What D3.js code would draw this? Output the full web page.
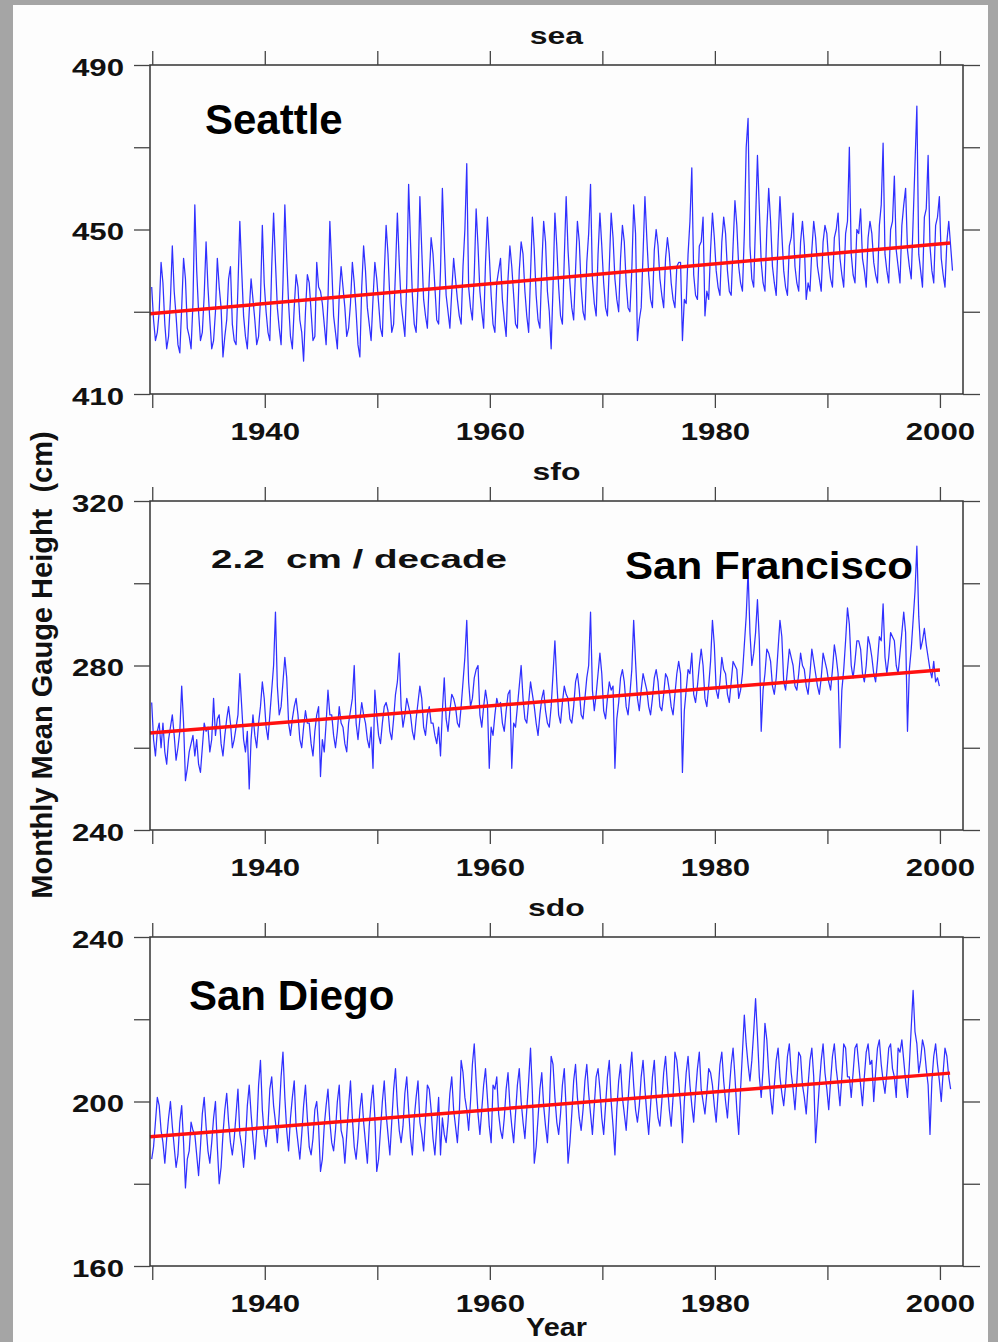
<!DOCTYPE html>
<html>
<head>
<meta charset="utf-8">
<script src="https://cdn.jsdelivr.net/npm/d3@7"></script>
<style>
  body { margin: 0; background: #a5a5a5; }
  svg { display: block; }
  text { font-family: "Liberation Sans", Arial, sans-serif; font-weight: bold; white-space: pre; }
</style>
</head>
<body>
<div id="chart"></div>
<script>
// Page size and the three stacked panels
const width = 998;
const height = 1342;
const plotLeft = 150, plotRight = 963, plotHeight = 329;
const panelTops = [65, 501, 937];

// Stations, their codes and y ranges
const stations = ["Seattle", "San Francisco", "San Diego"];
const codes = ["sea", "sfo", "sdo"];
const yDomains = [[410, 490], [240, 320], [160, 240]];
const yTickValues = [[410, 430, 450, 470, 490], [240, 260, 280, 300, 320], [160, 180, 200, 220, 240]];
const yLabelValues = [[410, 450, 490], [240, 280, 320], [160, 200, 240]];
const xTickValues = [1930, 1940, 1950, 1960, 1970, 1980, 1990, 2000];
const xLabelValues = [1940, 1960, 1980, 2000];

// Monthly means, every two months (Jan-Feb .. Nov-Dec), starting 1930
const seaLevels = [
  436,428,423,425,430,442, 437,427,421,424,433,446, 435,429,422,420,431,443, 438,426,424,421,432,456,
  440,430,423,425,434,447, 436,428,421,423,430,443, 436,431,419,424,428,438, 441,427,423,422,436,452,
  440,429,424,421,430,438, 433,428,422,424,433,451, 437,430,425,423,441,454, 442,431,426,422,437,456,
  443,432,424,421,431,439, 436,428,425,418,430,439, 437,430,423,424,442,436, 435,432,427,422,433,452,
  441,429,425,421,434,441, 436,431,424,426,432,442, 437,430,422,419,436,446, 440,431,427,423,433,442,
  438,432,426,424,439,451, 444,433,425,427,440,454, 442,432,428,424,437,461, 447,434,427,425,436,458,
  445,433,429,426,438,448, 444,436,428,427,440,460, 446,434,430,426,435,443, 438,433,429,427,441,450,
  466,436,431,428,439,455, 446,435,430,426,442,453, 444,434,427,425,437,440, 443,433,428,424,438,446,
  441,434,427,426,440,447, 444,435,429,425,439,453, 445,434,428,426,441,452, 447,435,430,421,436,454,
  446,436,429,427,443,458, 445,437,431,428,440,452, 447,436,430,428,442,449, 461,438,432,429,444,454,
  446,437,431,429,441,454, 448,438,433,430,443,451, 447,437,431,430,440,456, 449,423,428,431,444,458,
  448,439,433,431,445,450, 446,438,434,431,443,448, 444,437,433,431,441,442, 442,423,433,432,444,452,
  465,439,434,433,446,447, 453,429,435,433,445,454, 448,440,436,434,447,453, 449,440,435,434,446,457,
  451,441,437,435,449,470, 477,446,438,436,452,468, 455,442,437,435,450,460, 452,441,437,434,447,458,
  449,440,436,434,446,448, 454,441,437,435,447,452, 446,433,437,435,445,452, 448,441,438,435,447,451,
  449,442,438,436,448,450, 454,443,439,436,449,452, 470,444,439,437,450,449, 455,443,440,436,448,452,
  449,442,439,437,451,456, 471,444,440,437,450,452, 463,445,441,437,451,456, 460,445,441,438,452,466,
  480,444,440,436,453,455, 468,446,440,437,451,453, 458,443,439,436,447,452, 446,440
];
const sfoLevels = [
  271,262,258,264,266,260, 266,259,256,262,265,268, 263,257,260,264,275,266, 252,255,259,261,263,258,
  262,256,254,260,266,264, 265,259,262,272,263,267, 268,261,258,263,267,270, 266,260,262,265,268,278,
  270,262,259,264,250,262, 268,263,260,266,270,276, 272,265,262,268,274,280, 293,275,268,270,276,282,
  277,266,263,267,270,272, 268,262,260,265,269,266, 266,261,258,264,268,270, 253,262,259,266,274,268,
  268,263,260,264,270,266, 265,261,259,266,269,272, 280,266,262,267,271,268, 266,262,260,265,255,274,
  268,263,261,266,270,271, 269,264,262,267,273,276, 283,270,265,268,272,270, 268,264,262,267,271,275,
  272,265,263,268,270,266, 266,263,261,265,258,269, 277,267,264,269,273,272, 270,266,265,270,276,282,
  291,276,270,272,277,279, 280,268,265,270,274,271, 255,265,263,268,272,270, 271,266,264,269,273,274,
  255,266,265,270,275,280, 272,267,266,271,276,273, 270,266,263,268,272,274, 269,266,265,270,278,286,
  276,268,266,271,275,273, 272,267,266,270,276,278, 274,268,267,272,277,280, 293,274,269,273,278,283,
  278,269,267,272,276,274, 275,255,267,271,277,279, 276,270,268,273,279,291, 281,272,269,274,278,276,
  274,270,268,272,277,279, 276,270,269,273,278,277, 274,270,268,273,278,281, 278,254,269,274,279,278,
  283,273,271,275,280,284, 280,272,270,275,281,291, 285,274,272,276,282,279, 278,273,271,276,281,280,
  279,272,274,278,285,292, 303,288,280,283,288,296, 286,264,274,278,284,283, 281,275,273,277,284,291,
  287,276,274,279,284,282, 280,275,274,278,283,280, 279,275,273,278,284,281, 278,275,273,277,283,281,
  279,276,274,279,285,282, 278,260,274,279,286,294, 290,280,277,281,286,286, 284,278,276,280,287,285,
  282,278,276,281,287,286, 295,282,278,282,288,287, 286,280,278,283,288,293, 288,264,279,284,291,298,
  309,292,284,286,289,285, 282,279,277,281,276,277, 275
];
const sdoLevels = [
  186,189,195,201,199,193, 190,185,191,196,200,194, 189,184,187,195,199,190, 179,186,188,195,193,192,
  187,182,189,197,201,194, 188,185,190,196,200,189, 180,184,192,198,202,195, 190,187,191,197,203,192,
  189,184,190,199,204,197, 191,186,193,204,210,198, 192,189,194,203,206,199, 195,190,197,206,212,201,
  193,188,196,201,205,194, 190,186,192,199,204,196, 189,187,191,198,200,194, 183,186,194,199,203,195,
  190,188,193,200,204,193, 191,185,192,199,205,196, 189,186,191,198,202,195, 190,185,194,200,204,196,
  183,186,193,200,205,197, 192,187,195,203,208,199, 193,190,194,202,206,198, 191,187,196,201,205,195,
  192,188,196,204,203,198, 191,187,194,201,187,196, 192,190,195,202,206,198, 194,190,197,210,207,201,
  198,193,200,209,214,205, 197,192,198,204,208,201, 194,190,204,203,206,197, 193,191,196,203,207,199,
  194,190,197,204,208,200, 195,191,198,205,213,202, 185,189,196,203,207,199, 194,190,198,211,209,201,
  195,192,197,204,208,198, 185,190,197,205,209,201, 196,193,198,205,209,202, 197,192,199,206,208,203,
  196,192,199,206,210,200, 194,187,198,205,209,201, 197,193,200,207,212,204, 198,195,199,206,210,203,
  197,192,199,206,210,201, 196,194,200,207,211,204, 198,194,201,212,210,205, 199,190,200,207,211,204,
  199,195,202,208,212,203, 200,197,202,208,207,204, 199,195,202,209,212,205, 200,196,203,209,213,206,
  198,192,203,212,221,214, 209,205,210,217,225,216, 206,201,208,219,215,207, 201,197,204,210,213,206,
  202,199,204,211,214,207, 203,198,205,212,211,204, 201,197,204,210,213,206, 190,197,204,210,214,207,
  203,198,205,211,214,208, 204,199,206,214,213,206, 206,201,207,213,214,209, 204,199,206,212,214,209,
  210,200,207,213,215,209, 205,202,207,213,214,208, 206,201,213,212,215,210, 205,201,209,218,227,217,
  214,207,210,215,213,208, 204,192,205,211,214,209, 205,200,207,213,211,206, 203
];
const seriesStart = 1929.95;

// Linear trend lines (start and end of each fit)
const trendYears = [[1929.8, 2000.9], [1929.8, 2000.0], [1929.8, 2000.9]];
const trendLevels = [[429.5, 446.7], [263.6, 278.9], [191.4, 206.9]];

const svg = d3.select("#chart").append("svg")
    .attr("width", width)
    .attr("height", height);

// grey surround with the white sheet on top
svg.append("rect").attr("width", width).attr("height", height).attr("fill", "#a5a5a5");
svg.append("rect").attr("x", 13).attr("y", 5).attr("width", 975).attr("height", height - 5).attr("fill", "#fdfdfd");

// stretch a text horizontally, the original lettering is wide
function stretch(sel, k) {
  sel.each(function() {
    const w = this.getComputedTextLength();
    d3.select(this).attr("textLength", w * k).attr("lengthAdjust", "spacingAndGlyphs");
  });
}

const x = d3.scaleLinear().domain([1929.8, 2002.05]).range([plotLeft, plotRight]);
const allLevels = [seaLevels, sfoLevels, sdoLevels];

allLevels.forEach((levels, p) => {
  const top = panelTops[p];
  const y = d3.scaleLinear().domain(yDomains[p]).range([top + plotHeight, top]);
  const g = svg.append("g");

  // data line
  const line = d3.line()
      .x((d, i) => x(seriesStart + i / 6))
      .y(d => y(d));
  g.append("path")
      .datum(levels)
      .attr("d", line)
      .attr("fill", "none")
      .attr("stroke", "#3030ff")
      .attr("stroke-width", 1.25)
      .attr("stroke-linejoin", "round");

  // red trend
  g.append("line")
      .attr("x1", x(trendYears[p][0])).attr("y1", y(trendLevels[p][0]))
      .attr("x2", x(trendYears[p][1])).attr("y2", y(trendLevels[p][1]))
      .attr("stroke", "#ff1010")
      .attr("stroke-width", 3.5);

  // frame
  g.append("rect")
      .attr("x", plotLeft).attr("y", top)
      .attr("width", plotRight - plotLeft).attr("height", plotHeight)
      .attr("fill", "none").attr("stroke", "#333").attr("stroke-width", 1.5);

  // axes
  const left = g.append("g").attr("transform", `translate(${plotLeft},0)`)
      .call(d3.axisLeft(y).tickValues(yTickValues[p]).tickSize(16).tickSizeOuter(0).tickPadding(10)
        .tickFormat(d => yLabelValues[p].includes(d) ? d : ""));
  const right = g.append("g").attr("transform", `translate(${plotRight},0)`)
      .call(d3.axisRight(y).tickValues(yTickValues[p]).tickSize(17).tickSizeOuter(0).tickFormat(""));
  const topAxis = g.append("g").attr("transform", `translate(0,${top})`)
      .call(d3.axisTop(x).tickValues(xTickValues).tickSize(14).tickSizeOuter(0).tickFormat(""));
  const bottom = g.append("g").attr("transform", `translate(0,${top + plotHeight})`)
      .call(d3.axisBottom(x).tickValues(xTickValues).tickSize(14).tickSizeOuter(0).tickPadding(15)
        .tickFormat(d => xLabelValues.includes(d) ? d : ""));

  [left, right, topAxis, bottom].forEach(a => {
    a.select(".domain").remove();
    a.selectAll(".tick line").attr("stroke", "#444").attr("stroke-width", 1.3);
  });
  left.selectAll("text").attr("dy", "0.42em");
  [left, bottom].forEach(a => {
    a.selectAll("text")
      .attr("fill", "#111")
      .style("font-size", "24px")
      .style("font-family", '"Liberation Sans", Arial, sans-serif')
      .style("font-weight", "bold")
      .call(stretch, 1.3);
  });

  // code title above each panel
  g.append("text")
      .attr("x", (plotLeft + plotRight) / 2)
      .attr("y", top - 21)
      .attr("text-anchor", "middle")
      .style("font-size", "24px")
      .attr("fill", "#111")
      .text(codes[p])
      .call(stretch, 1.33);
});

// station names inside the panels
svg.append("text").attr("x", 205).attr("y", 134).style("font-size", "42px").text(stations[0]);
svg.append("text").attr("x", 625).attr("y", 579).style("font-size", "38px").text(stations[1])
    .attr("textLength", 288).attr("lengthAdjust", "spacingAndGlyphs");
svg.append("text").attr("x", 189).attr("y", 1010).style("font-size", "42px").text(stations[2]);

// rate label
svg.append("text").attr("x", 211).attr("y", 568).style("font-size", "26px").attr("fill", "#111")
    .text("2.2  cm / decade")
    .attr("textLength", 296).attr("lengthAdjust", "spacingAndGlyphs");

// axis titles
svg.append("text")
    .attr("x", (plotLeft + plotRight) / 2).attr("y", 1336)
    .attr("text-anchor", "middle")
    .style("font-size", "25px").attr("fill", "#111")
    .text("Year")
    .call(stretch, 1.15);

svg.append("text")
    .attr("transform", "translate(52,665) rotate(-90)")
    .attr("text-anchor", "middle")
    .style("font-size", "29px").attr("fill", "#111")
    .text("Monthly Mean Gauge Height  (cm)");
</script>
</body>
</html>
